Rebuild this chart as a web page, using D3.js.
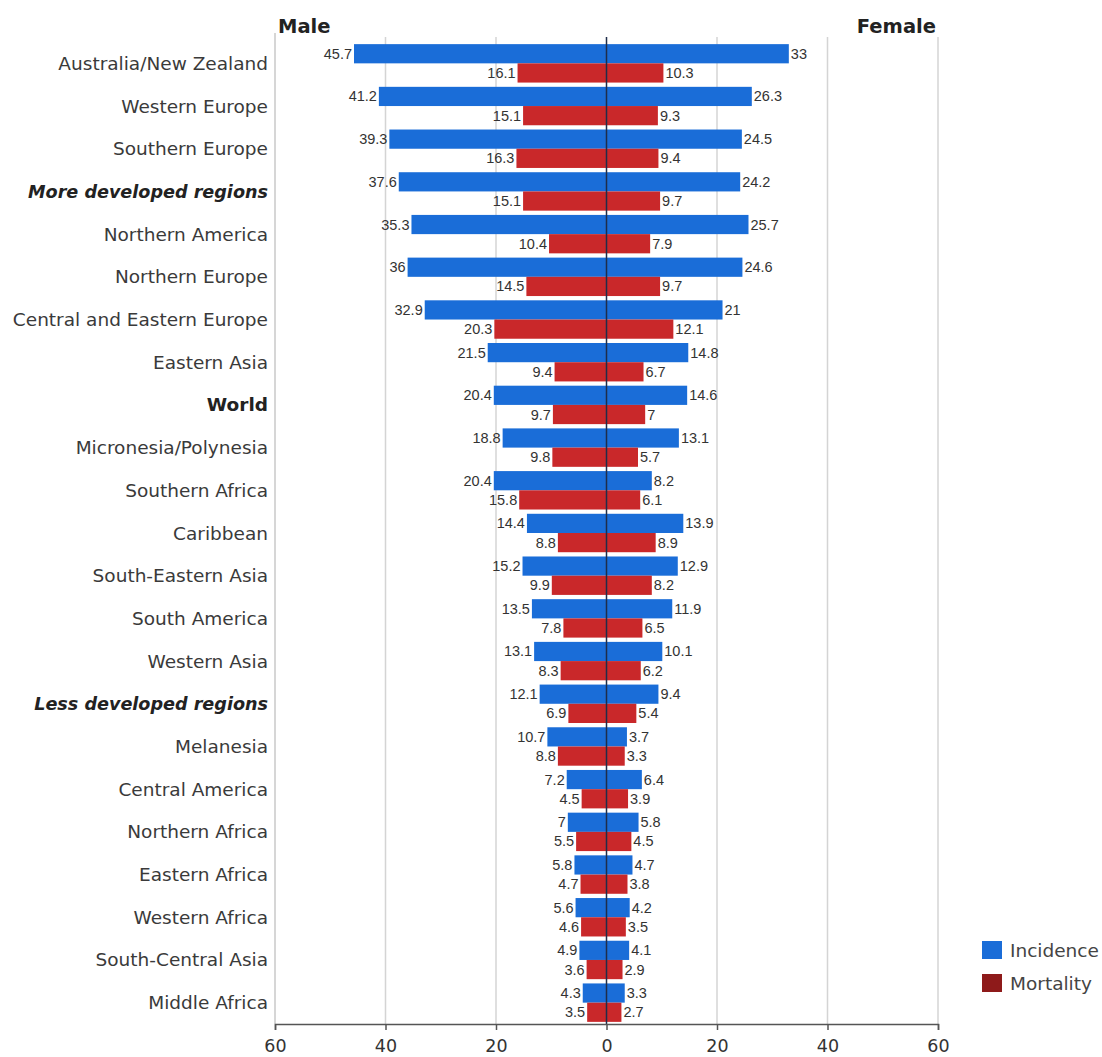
<!DOCTYPE html>
<html>
<head>
<meta charset="utf-8">
<script src="https://cdn.jsdelivr.net/npm/d3@7"></script>
<style>
  html, body { margin: 0; padding: 0; background: #fff; }
  svg { display: block; }
</style>
</head>
<body>
<svg id="chart" width="1102" height="1057"></svg>
<script>
// Regions, top to bottom
const regions = [
  "Australia/New Zealand", "Western Europe", "Southern Europe", "More developed regions",
  "Northern America", "Northern Europe", "Central and Eastern Europe", "Eastern Asia",
  "World", "Micronesia/Polynesia", "Southern Africa", "Caribbean", "South-Eastern Asia",
  "South America", "Western Asia", "Less developed regions", "Melanesia", "Central America",
  "Northern Africa", "Eastern Africa", "Western Africa", "South-Central Asia", "Middle Africa"
];
// Age-standardised rates per 100,000
const maleIncidence   = [45.7, 41.2, 39.3, 37.6, 35.3, 36, 32.9, 21.5, 20.4, 18.8, 20.4, 14.4, 15.2, 13.5, 13.1, 12.1, 10.7, 7.2, 7, 5.8, 5.6, 4.9, 4.3];
const maleMortality   = [16.1, 15.1, 16.3, 15.1, 10.4, 14.5, 20.3, 9.4, 9.7, 9.8, 15.8, 8.8, 9.9, 7.8, 8.3, 6.9, 8.8, 4.5, 5.5, 4.7, 4.6, 3.6, 3.5];
const femaleIncidence = [33, 26.3, 24.5, 24.2, 25.7, 24.6, 21, 14.8, 14.6, 13.1, 8.2, 13.9, 12.9, 11.9, 10.1, 9.4, 3.7, 6.4, 5.8, 4.7, 4.2, 4.1, 3.3];
const femaleMortality = [10.3, 9.3, 9.4, 9.7, 7.9, 9.7, 12.1, 6.7, 7, 5.7, 6.1, 8.9, 8.2, 6.5, 6.2, 5.4, 3.3, 3.9, 4.5, 3.8, 3.5, 2.9, 2.7];
const aggregateRegions = ["More developed regions", "Less developed regions"];
const worldRegion = "World";
const axisTicks = [-60, -40, -20, 0, 20, 40, 60];
const seriesNames = ["Incidence", "Mortality"];

const colors = { incidence: "#1a6dd8", mortality: "#c9282a", mortalityKey: "#8e1a1a" };
const uiFont = "'DejaVu Sans', Verdana, sans-serif";

const svg = d3.select("#chart");
const plot = { left: 275, right: 938, top: 42, bottom: 1024 };

const x = d3.scaleLinear().domain([-60, 60]).range([plot.left, plot.right]);
const y = d3.scaleBand().domain(regions).range([plot.top, plot.bottom]).paddingInner(0.1).paddingOuter(0.05);

// Gridlines
svg.append("g").selectAll("line")
  .data(axisTicks.filter(t => t !== 0 && t !== -60))
  .join("line")
  .attr("x1", d => x(d)).attr("x2", d => x(d))
  .attr("y1", 37).attr("y2", plot.bottom)
  .attr("stroke", "#d4d4d4").attr("stroke-width", 1.5);

// Left frame line
svg.append("line")
  .attr("x1", x(-60)).attr("x2", x(-60))
  .attr("y1", 33).attr("y2", plot.bottom)
  .attr("stroke", "#c8c8c8").attr("stroke-width", 1.5);

// Rows of bars: male on the left (negative), female on the right
const bh = y.bandwidth() / 2;
const rows = regions.map((r, i) => ({
  region: r,
  mi: maleIncidence[i], mm: maleMortality[i],
  fi: femaleIncidence[i], fm: femaleMortality[i]
}));

const barG = svg.append("g");
rows.forEach(d => {
  const y0 = y(d.region);
  barG.append("rect").attr("x", x(-d.mi)).attr("y", y0).attr("width", x(0) - x(-d.mi)).attr("height", bh).attr("fill", colors.incidence);
  barG.append("rect").attr("x", x(0)).attr("y", y0).attr("width", x(d.fi) - x(0)).attr("height", bh).attr("fill", colors.incidence);
  barG.append("rect").attr("x", x(-d.mm)).attr("y", y0 + bh).attr("width", x(0) - x(-d.mm)).attr("height", bh).attr("fill", colors.mortality);
  barG.append("rect").attr("x", x(0)).attr("y", y0 + bh).attr("width", x(d.fm) - x(0)).attr("height", bh).attr("fill", colors.mortality);
});

// Value labels
const lblG = svg.append("g")
  .attr("font-family", "'Liberation Sans', Arial, sans-serif")
  .attr("font-size", 14.5).attr("fill", "#333");
rows.forEach(d => {
  const y0 = y(d.region);
  lblG.append("text").attr("x", x(-d.mi) - 2).attr("y", y0 + bh / 2 + 5).attr("text-anchor", "end").text(d.mi);
  lblG.append("text").attr("x", x(d.fi) + 2).attr("y", y0 + bh / 2 + 5).text(d.fi);
  lblG.append("text").attr("x", x(-d.mm) - 2).attr("y", y0 + bh * 1.5 + 5).attr("text-anchor", "end").text(d.mm);
  lblG.append("text").attr("x", x(d.fm) + 2).attr("y", y0 + bh * 1.5 + 5).text(d.fm);
});

// Centre line
svg.append("line")
  .attr("x1", x(0)).attr("x2", x(0))
  .attr("y1", 37).attr("y2", plot.bottom)
  .attr("stroke", "#1f2d4a").attr("stroke-width", 1.5);

// Category labels; aggregates in bold italic, the world total in bold
const isAggregate = d => aggregateRegions.includes(d);
const isEmphasised = d => isAggregate(d) || d === worldRegion;
svg.append("g").selectAll("text")
  .data(regions)
  .join("text")
  .attr("x", 268)
  .attr("y", d => y(d) + y.bandwidth() / 2 + 6.5)
  .attr("text-anchor", "end")
  .attr("font-family", uiFont)
  .attr("font-size", d => isAggregate(d) ? 17.6 : 18.5)
  .attr("fill", d => isEmphasised(d) ? "#222" : "#3a3a3a")
  .attr("font-weight", d => isEmphasised(d) ? "bold" : "normal")
  .attr("font-style", d => isAggregate(d) ? "italic" : "normal")
  .text(d => d);

// Bottom axis, showing absolute values on both sides
const xAxis = d3.axisBottom(x).tickValues(axisTicks).tickFormat(d => Math.abs(d)).tickSizeOuter(0).tickSize(6);
const axG = svg.append("g").attr("transform", `translate(0,${plot.bottom})`).call(xAxis);
axG.select(".domain").attr("stroke", "#555").attr("stroke-width", 1.5);
axG.selectAll(".tick line").attr("stroke", "#555").attr("stroke-width", 1.5);
axG.selectAll(".tick text")
  .attr("font-family", uiFont)
  .attr("font-size", 17.5).attr("fill", "#333").attr("dy", "1.1em");

// Panel titles
svg.append("text").attr("x", 278).attr("y", 33)
  .attr("font-family", uiFont).attr("font-size", 19.5).attr("font-weight", "bold").attr("fill", "#222")
  .text("Male");
svg.append("text").attr("x", 936).attr("y", 33).attr("text-anchor", "end")
  .attr("font-family", uiFont).attr("font-size", 19.5).attr("font-weight", "bold").attr("fill", "#222")
  .text("Female");

// Legend
const legend = svg.append("g").attr("transform", "translate(982,941)");
const legendColors = [colors.incidence, colors.mortalityKey];
seriesNames.forEach((s, i) => {
  const g = legend.append("g").attr("transform", `translate(0,${i * 33})`);
  g.append("rect").attr("width", 20).attr("height", 18).attr("fill", legendColors[i]);
  g.append("text").attr("x", 28).attr("y", 16)
    .attr("font-family", uiFont).attr("font-size", 18.5).attr("fill", "#444")
    .text(s);
});
</script>
</body>
</html>
